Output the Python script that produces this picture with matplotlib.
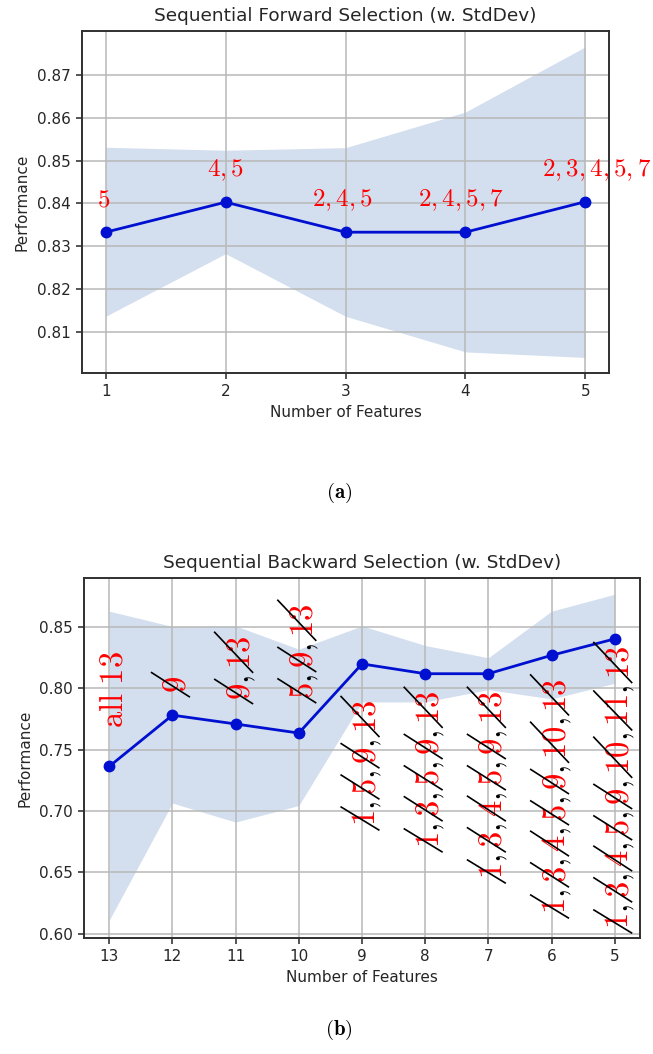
import matplotlib
matplotlib.use("Agg")
import matplotlib.pyplot as plt
import matplotlib.transforms as mtransforms
from matplotlib.font_manager import FontProperties
import numpy as np

# ------------------------------------------------------------------ data
fwd_k = [1, 2, 3, 4, 5]
fwd_mean = [0.8333, 0.8403, 0.8333, 0.8333, 0.8404]
fwd_upper = [0.8531, 0.8524, 0.8530, 0.8613, 0.8765]
fwd_lower = [0.8137, 0.8283, 0.8137, 0.8054, 0.8041]
fwd_labels = ["5", "4,5", "2,4,5", "2,4,5,7", "2,3,4,5,7"]
fwd_yticks = [0.81, 0.82, 0.83, 0.84, 0.85, 0.86, 0.87]

bwd_k = [13, 12, 11, 10, 9, 8, 7, 6, 5]
bwd_mean = [0.7364, 0.7782, 0.7710, 0.7636, 0.8200, 0.8120, 0.8120, 0.8270, 0.8404]
bwd_upper = [0.8630, 0.8505, 0.8510, 0.8320, 0.8510, 0.8350, 0.8250, 0.8630, 0.8768]
bwd_lower = [0.6110, 0.7065, 0.6910, 0.7045, 0.7890, 0.7890, 0.7990, 0.7915, 0.8042]
bwd_labels = ["all 13", "9", "9,13", "5,9,13", "1,5,9,13", "1,3,5,9,13",
              "1,3,4,5,9,13", "1,3,4,5,9,10,13", "1,3,4,5,9,10,11,13"]
bwd_struck = [False, True, True, True, True, True, True, True, True]
bwd_yticks = [0.60, 0.65, 0.70, 0.75, 0.80, 0.85]

# ------------------------------------------------------------------ style / layout
LINE = "#0010d0"
FILL = "#d3dfee"
GRID = "#b8b8b8"
TXT = "#262626"
RED = "#ff0000"

plt.rcParams["mathtext.fontset"] = "cm"
plt.rcParams["font.family"] = ["DejaVu Sans"]

DPI = 100
fig = plt.figure(figsize=(6.53, 10.54), dpi=DPI)
fig.patch.set_facecolor("white")

ax1 = fig.add_axes([0.1251, 0.6458, 0.8080, 0.3248])
ax2 = fig.add_axes([0.1286, 0.1101, 0.8515, 0.3418])

# label layout parameters (points)
fwd_label_dy = 18.5
fwd_label_dx = [-1.5, 0, -2, -3, 8]
bwd_label_side = ["above"] * 4 + ["below"] * 5
bwd_label_gap_px = [38, 22, 24, 34, 36, 17, 17, 23, 7]
BWD_FS = 23.5
FWD_FS = 18


def style_axes(ax, k, yticks, title):
    ax.set_title(title, fontsize=13.3, color=TXT, pad=7)
    ax.set_xlabel("Number of Features", fontsize=11, color=TXT, labelpad=4)
    ax.set_ylabel("Performance", fontsize=11, color=TXT, labelpad=5)
    ax.set_xticks(k)
    ax.set_yticks(yticks)
    ax.set_yticklabels([f"{v:.2f}" for v in yticks])
    ax.tick_params(labelsize=11, colors=TXT, length=4.5, width=1.1)
    ax.grid(True, color=GRID, lw=1.1)
    for s in ax.spines.values():
        s.set_color("#303030")
        s.set_linewidth(1.4)


# ---- (a) forward selection
ax1.fill_between(fwd_k, fwd_upper, fwd_lower, color=FILL, lw=0, zorder=1)
ax1.plot(fwd_k, fwd_mean, color=LINE, marker="o", lw=2.0, ms=7.5, zorder=3)
style_axes(ax1, fwd_k, fwd_yticks, "Sequential Forward Selection (w. StdDev)")
for x, m, lab, dx in zip(fwd_k, fwd_mean, fwd_labels, fwd_label_dx):
    ax1.annotate(f"${lab}$", (x, m), xytext=(dx, fwd_label_dy),
                 textcoords="offset points", ha="center", va="baseline",
                 color=RED, fontsize=FWD_FS, annotation_clip=False, zorder=4)

# ---- (b) backward selection
ax2.fill_between(bwd_k, bwd_upper, bwd_lower, color=FILL, lw=0, zorder=1)
ax2.plot(bwd_k, bwd_mean, color=LINE, marker="o", lw=2.0, ms=7.5, zorder=3)
style_axes(ax2, bwd_k, bwd_yticks, "Sequential Backward Selection (w. StdDev)")
ax2.set_xlim(max(bwd_k) + 0.4, min(bwd_k) - 0.4)
ax2.set_ylim(min(bwd_lower) - 0.0145, max(bwd_upper) + 0.0135)
ax1.set_xlim(min(fwd_k) - 0.2, max(fwd_k) + 0.2)
ax1.set_ylim(min(fwd_lower) - 0.0037, max(fwd_upper) + 0.0037)

renderer = fig.canvas.get_renderer()
prop = FontProperties(size=BWD_FS)


def mwidth(s):
    w, h, d = renderer.get_text_width_height_descent(f"${s}$", prop, ismath=True)
    return w


_, hdig, _ = renderer.get_text_width_height_descent("$0$", prop, ismath=True)
inv = ax2.transData.inverted()

for x, m, lab, struck, side, gap in zip(bwd_k, bwd_mean, bwd_labels, bwd_struck,
                                        bwd_label_side, bwd_label_gap_px):
    if struck:
        parts = lab.split(",")
        tokens = []
        for i, p in enumerate(parts):
            tokens.append(p)
            if i < len(parts) - 1:
                tokens.append(",")
    else:
        tokens = [r"\mathrm{" + lab.replace(" ", r"}\ \mathrm{") + "}"]
    full = "".join(tokens)
    wfull = mwidth(full)
    px, py = ax2.transData.transform((x, m))
    if side == "above":
        y0 = py + gap
    else:
        y0 = py - gap - wfull
    xb = px + hdig / 2.0
    for i, tok in enumerate(tokens):
        prefix = "".join(tokens[: i + 1])
        start = mwidth(prefix) - mwidth(tok)
        dx = (xb - px) / DPI
        dy = (y0 + start - py) / DPI
        tr = ax2.transData + mtransforms.ScaledTranslation(dx, dy, fig.dpi_scale_trans)
        color = "black" if tok == "," else RED
        ax2.text(x, m, f"${tok}$", rotation=90, rotation_mode="anchor",
                 ha="left", va="baseline", color=color, fontsize=BWD_FS,
                 transform=tr, clip_on=False, zorder=4)
        if struck and tok != ",":
            wt = mwidth(tok)
            ylo = y0 + start - 4
            yhi = y0 + start + wt + 4
            xr = xb + 4
            xl = xb - hdig - 8
            (dx1, dy1), (dx2, dy2) = inv.transform([(xr, ylo), (xl, yhi)])
            ax2.plot([dx1, dx2], [dy1, dy2], color="black", lw=1.2,
                     clip_on=False, zorder=5, solid_capstyle="butt")

# ---- captions
fig.text(0.519, 0.532, r"$(\mathbf{a})$", ha="center", va="center", fontsize=15, color="black")
fig.text(0.519, 0.0225, r"$(\mathbf{b})$", ha="center", va="center", fontsize=15, color="black")

fig.savefig("out.png", dpi=DPI, facecolor="white")
